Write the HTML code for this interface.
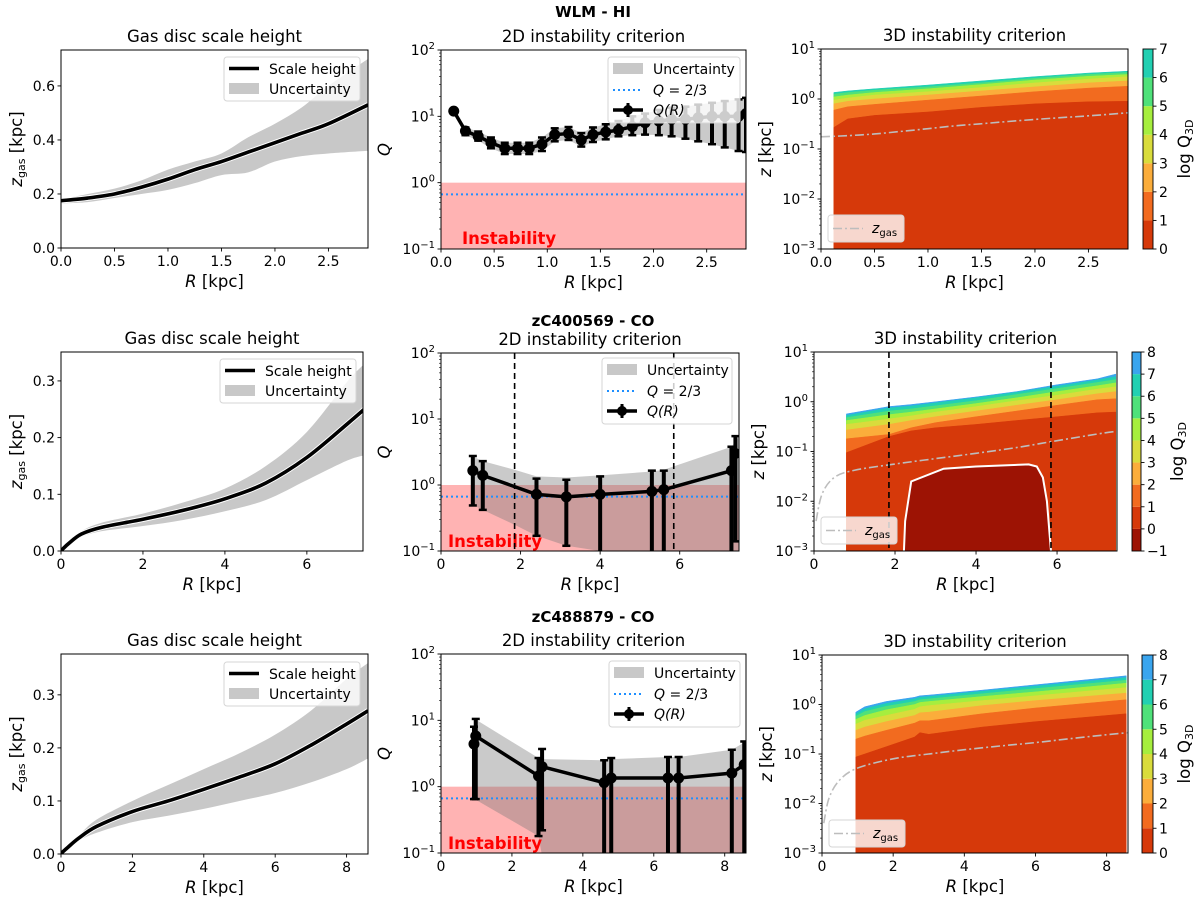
<!DOCTYPE html>
<html><head><meta charset="utf-8"><title>Gas disc instability</title>
<style>
html,body{margin:0;padding:0;background:#fff;}
svg{display:block;font-family:"DejaVu Sans","Liberation Sans",sans-serif;}
</style></head>
<body>
<svg id="fig" width="1200" height="905" viewBox="0 0 1200 905" xmlns="http://www.w3.org/2000/svg">
<rect x="0" y="0" width="1200" height="905" fill="#fff"/>
</svg>
<script>
// ---------- DATA ----------
// Row 1 : WLM - HI
const S1R = [0,0.25,0.5,0.75,1,1.25,1.5,1.75,2,2.25,2.5,2.87];
const S1z = [0.175,0.185,0.2,0.225,0.255,0.29,0.32,0.355,0.39,0.425,0.46,0.53];
const S1hi = [0.18,0.2,0.22,0.25,0.29,0.32,0.35,0.41,0.46,0.52,0.6,0.7];
const S1lo = [0.165,0.17,0.185,0.2,0.215,0.24,0.27,0.28,0.32,0.34,0.35,0.36];
const Q1R = [0.12,0.23,0.35,0.47,0.6,0.72,0.83,0.95,1.07,1.2,1.32,1.43,1.55,1.67,1.8,1.92,2.05,2.17,2.3,2.42,2.55,2.67,2.8,2.87];
const Q1 = [12,6,5,4,3.3,3.3,3.3,3.8,5.3,5.5,4.4,5.3,5.8,6.2,7,8,8.5,9,9,9.5,10,10,10,11];
const Q1lo = [12,5.2,4.3,3.3,2.7,2.7,2.7,3,4.2,4.4,3.5,4.1,4.5,5,5.2,5.3,5.2,5,4.6,4.2,3.8,3.4,3,2.9];
const Q1hi = [12,6.8,5.9,4.8,4.0,4.0,4.0,4.8,6.6,6.9,5.6,6.8,7.6,8.5,10,11,12.5,13.5,14,15,16,17,18,19];
const D1R = [0.12,0.25,0.5,1.0,1.5,2.0,2.5,2.87];
const D1B = [
  [0.27,0.4,0.47,0.55,0.68,0.8,0.88,0.9],
  [0.6,0.7,0.78,0.95,1.15,1.4,1.65,1.8],
  [0.8,0.9,1.0,1.2,1.45,1.75,2.1,2.3],
  [0.95,1.05,1.2,1.4,1.7,2.1,2.5,2.8],
  [1.1,1.2,1.35,1.6,1.95,2.4,2.85,3.1],
  [1.25,1.35,1.5,1.75,2.1,2.6,3.1,3.4],
  [1.35,1.45,1.6,1.9,2.3,2.8,3.3,3.6]
];
// Row 2 : zC400569 - CO
const S2R = [0,0.05,0.2,0.5,1,2,3,4,5,6,7,7.48];
const S2z = [0,0.004,0.014,0.03,0.042,0.056,0.072,0.092,0.12,0.165,0.225,0.255];
const S2hi = [0,0.005,0.016,0.035,0.05,0.066,0.086,0.11,0.15,0.21,0.3,0.335];
const S2lo = [0,0.003,0.012,0.025,0.035,0.044,0.055,0.07,0.09,0.125,0.16,0.17];
const Q2R = [0.8,1.05,2.4,3.15,4.0,5.3,5.6,7.3,7.4];
const Q2 = [1.65,1.4,0.72,0.66,0.72,0.8,0.85,1.65,3];
const Q2lo = [0.49,0.42,0.17,0.12,0.09,0.09,0.09,0.09,0.14];
const Q2hi = [2.75,2.3,1.25,1.2,1.35,1.65,1.65,3.8,5.5];
const B2R = [0.8,1.05,1.85,2.4,3.15,4,5.3,5.6,7.3,7.5];
const B2lo = [0.5,0.42,0.25,0.17,0.12,0.1,0.08,0.08,0.08,0.08];
const B2hi = [2.7,2.3,1.7,1.35,1.3,1.4,1.6,1.7,3.8,5.5];
const D2R = [0.8,1.85,2.4,3,4,5,6,7,7.45];
const D2B = [
  [0.095,0.2,0.26,0.3,0.35,0.42,0.5,0.6,0.62],
  [0.18,0.22,0.3,0.38,0.5,0.65,0.85,1.1,1.15],
  [0.27,0.35,0.42,0.5,0.65,0.85,1.1,1.45,1.6],
  [0.35,0.45,0.52,0.62,0.8,1.05,1.35,1.8,2.0],
  [0.42,0.55,0.62,0.72,0.92,1.2,1.6,2.1,2.4],
  [0.48,0.65,0.72,0.83,1.05,1.4,1.85,2.45,2.8],
  [0.53,0.75,0.82,0.95,1.2,1.55,2.05,2.75,3.2],
  [0.57,0.8,0.88,1.0,1.25,1.6,2.2,2.9,3.6]
];
const U2R = [2.22,2.25,2.4,3.2,4,5.3,5.5,5.65,5.75,5.85];
const U2z = [0.001,0.004,0.025,0.045,0.05,0.055,0.05,0.03,0.01,0.001];
const V2 = [1.85,5.85];
// Row 3 : zC488879 - CO
const S3R = [0,0.05,0.2,0.5,1,2,3,4,5,6,7,8,8.6];
const S3z = [0,0.004,0.013,0.03,0.052,0.08,0.1,0.122,0.145,0.17,0.205,0.245,0.27];
const S3hi = [0,0.005,0.016,0.035,0.065,0.1,0.13,0.16,0.19,0.225,0.27,0.33,0.36];
const S3lo = [0,0.003,0.01,0.025,0.04,0.06,0.072,0.085,0.1,0.115,0.135,0.16,0.18];
const Q3R = [0.93,0.98,2.75,2.85,4.6,4.8,6.4,6.7,8.2,8.55];
const Q3 = [4.4,5.8,1.45,2.0,1.15,1.35,1.35,1.35,1.6,2.15];
const Q3lo = [0.65,0.65,0.18,0.22,0.09,0.09,0.09,0.09,0.09,0.09];
const Q3hi = [8,10.5,2.7,3.7,2.5,2.7,2.8,2.8,3.6,4.8];
const B3R = [0.95,2.75,2.85,4.6,4.8,6.4,6.7,8.2,8.6];
const B3lo = [0.65,0.18,0.09,0.08,0.08,0.08,0.08,0.08,0.08];
const B3hi = [10.5,2.7,2.6,2.5,2.6,2.8,2.8,3.6,4.8];
const D3R = [0.95,1.2,1.8,2.6,2.75,3,4.5,6,8.55];
const D3B = [
  [0.087,0.1,0.14,0.22,0.27,0.25,0.35,0.45,0.65],
  [0.2,0.23,0.3,0.42,0.47,0.47,0.65,0.85,1.25],
  [0.3,0.35,0.45,0.6,0.68,0.7,0.95,1.2,1.7],
  [0.4,0.48,0.6,0.8,0.9,0.95,1.2,1.5,2.2],
  [0.5,0.6,0.78,1.0,1.1,1.15,1.45,1.8,2.7],
  [0.58,0.72,0.92,1.15,1.25,1.3,1.65,2.1,3.1],
  [0.65,0.82,1.05,1.3,1.4,1.45,1.85,2.35,3.5],
  [0.7,0.9,1.15,1.4,1.5,1.55,1.95,2.5,3.8]
];
const LEVEL_COLORS = {'-1':'#9d1304','0':'#d6390a','1':'#f26b1f','2':'#fbad3b','3':'#d9dc3c','4':'#a6ee3e','5':'#4fe17a','6':'#22d0b2','7':'#3aa5ee'};

// ---------- HELPERS ----------
const NS='http://www.w3.org/2000/svg';
const svg=document.getElementById('fig');
const FT=14, FL=16.5;
function mk(tag,attrs,parent){const e=document.createElementNS(NS,tag);for(const k in attrs)e.setAttribute(k,attrs[k]);(parent||svg).appendChild(e);return e;}
function lin(d0,d1,p0,p1){return v=>p0+(v-d0)/(d1-d0)*(p1-p0);}
function lg(d0,d1,p0,p1){return v=>p0+(Math.log10(v)-d0)/(d1-d0)*(p1-p0);}
function pts(xs,ys,sx,sy){return xs.map((x,i)=>sx(x).toFixed(2)+','+sy(ys[i]).toFixed(2));}
function xy(xs,ys,sx,sy){return xs.map((x,i)=>[sx(x),sy(ys[i])]);}
// Catmull-Rom smooth path through points (no leading M if cont)
function smooth(P,cont){
  let d=(cont?'L':'M')+P[0][0].toFixed(2)+','+P[0][1].toFixed(2);
  for(let i=0;i<P.length-1;i++){
    const p0=P[Math.max(0,i-1)],p1=P[i],p2=P[i+1],p3=P[Math.min(P.length-1,i+2)];
    const c1=[p1[0]+(p2[0]-p0[0])/6,p1[1]+(p2[1]-p0[1])/6];
    const c2=[p2[0]-(p3[0]-p1[0])/6,p2[1]-(p3[1]-p1[1])/6];
    d+='C'+c1[0].toFixed(2)+','+c1[1].toFixed(2)+' '+c2[0].toFixed(2)+','+c2[1].toFixed(2)+' '+p2[0].toFixed(2)+','+p2[1].toFixed(2);
  }
  return d;
}
let clipId=0;
function clipFor(ax){const id='c'+(clipId++);const cp=mk('clipPath',{id});mk('rect',{x:ax.x,y:ax.y,width:ax.w,height:ax.h},cp);return 'url(#'+id+')';}

function xAxis(g,ax,sx,ticks,dec){
  ticks.forEach(t=>{
    const x=sx(t);
    const tk=mk('line',{x1:x,x2:x,y1:ax.y+ax.h,y2:ax.y+ax.h+3.5,stroke:'#000','stroke-width':0.9},g);
    
    
    const lb=mk('text',{x:x,y:ax.y+ax.h+18,'text-anchor':'middle','font-size':FT},g);
    lb.textContent=t.toFixed(dec);
    
    
  });
  const xl=mk('text',{x:ax.x+ax.w/2,y:ax.y+ax.h+39,'text-anchor':'middle','font-size':FL},g);
  const it=mk('tspan',{'font-style':'italic'},xl);it.textContent='R';
  const rest=mk('tspan',{},xl);rest.textContent=' [kpc]';
  
  
}
function yAxisLin(g,ax,sy,ticks,dec){
  ticks.forEach(t=>{
    const y=sy(t);
    const tk=mk('line',{x1:ax.x-3.5,x2:ax.x,y1:y,y2:y,stroke:'#000','stroke-width':0.9},g);
    
    
    const lb=mk('text',{x:ax.x-6,y:y+5,'text-anchor':'end','font-size':FT},g);
    lb.textContent=t.toFixed(dec);
    
    
  });
}
function yAxisLog(g,ax,sy,e0,e1){
  for(let d=e0;d<=e1;d++){
    const y=sy(Math.pow(10,d));
    const tk=mk('line',{x1:ax.x-3.5,x2:ax.x,y1:y,y2:y,stroke:'#000','stroke-width':0.9},g);
    
    
    const lb=mk('text',{x:ax.x-6,y:y+5,'text-anchor':'end','font-size':FT},g);
    lb.appendChild(document.createTextNode('10'));
    const sp=mk('tspan',{dy:-6,'font-size':10},lb);
    sp.textContent=(d<0?'\u2212'+(-d):''+d);
    
    
    if(d<e1){for(let m=2;m<=9;m++){const ym=sy(m*Math.pow(10,d));
      const mt=mk('line',{x1:ax.x-2,x2:ax.x,y1:ym,y2:ym,stroke:'#000','stroke-width':0.6},g);
      
      }}
  }
}
function frame(g,ax){
  const f=mk('rect',{x:ax.x,y:ax.y,width:ax.w,height:ax.h,fill:'none',stroke:'#000','stroke-width':1},g);
  
  
}
function title(g,ax,s){
  const t=mk('text',{x:ax.x+ax.w/2,y:ax.y-8,'text-anchor':'middle','font-size':FL},g);
  t.textContent=s;
  
  
}
function zLabel(g,x,y,sub,suffix,name,upright){
  const t=mk('text',{x:x,y:y,'text-anchor':'middle','font-size':FL,transform:'rotate(-90 '+x+' '+y+')'},g);
  const a=mk('tspan',{'font-style':upright?'normal':'italic'},t);a.textContent=upright?'log Q':'z';
  if(sub){const b=mk('tspan',{'font-size':11,dy:3},t);b.textContent=sub;const c=mk('tspan',{dy:-3},t);c.textContent=suffix;}
  else{const c=mk('tspan',{},t);c.textContent=suffix;}
  
  
}

// ---------- PANEL: scale height ----------
function scalePanel(ax,R,z,lo,hi,xticks,xdec,yticks,leg){
  const g=mk('g',{},svg);
  
  
  const sx=lin(0,ax.xmax,ax.x,ax.x+ax.w), sy=lin(0,ax.ymax,ax.y+ax.h,ax.y);
  const cg=mk('g',{'clip-path':clipFor(ax)},g);
  const bd=smooth(xy(R,hi,sx,sy))+smooth(xy(R,lo,sx,sy).reverse(),true)+'Z';
  const band=mk('path',{d:bd,fill:'#c8c8c8'},cg);
  
  
  const ld=smooth(xy(R,z,sx,sy));
  const ln=mk('path',{d:ld,fill:'none',stroke:'#fff','stroke-width':5.5},cg);
  
  
  const ln2=mk('path',{d:ld,fill:'none',stroke:'#000','stroke-width':3.6},cg);
  
  
  frame(g,ax);xAxis(g,ax,sx,xticks,xdec);yAxisLin(g,ax,sy,yticks,1);
  title(g,ax,'Gas disc scale height');
  zLabel(g,22,ax.y+ax.h/2,'gas',' [kpc]','y-axis-title');
  const lgG=mk('g',{},g);
  
  
  mk('rect',{x:leg.x,y:leg.y,width:leg.w,height:leg.h,rx:3,fill:'#fff','fill-opacity':0.8,stroke:'#d6d6d6'},lgG);
  const l1=mk('line',{x1:leg.x+5,x2:leg.x+35,y1:leg.y+11.5,y2:leg.y+11.5,stroke:'#000','stroke-width':3.6},lgG);
  
  
  const t1=mk('text',{x:leg.x+45,y:leg.y+17,'font-size':FT},lgG);t1.textContent='Scale height';
  
  
  const r2=mk('rect',{x:leg.x+5,y:leg.y+26,width:30,height:11,fill:'#c8c8c8'},lgG);
  
  
  const t2=mk('text',{x:leg.x+45,y:leg.y+37,'font-size':FT},lgG);t2.textContent='Uncertainty';
  
  
}

// ---------- PANEL: 2D Q ----------
function qPanel(ax,R,Q,lo,hi,bR,bLo,bHi,xticks,xdec,vlines,leg,inst){
  const g=mk('g',{},svg);
  
  
  const sx=lin(0,ax.xmax,ax.x,ax.x+ax.w), sy=lg(-1,2,ax.y+ax.h,ax.y);
  const cg=mk('g',{'clip-path':clipFor(ax)},g);
  const pink=mk('rect',{x:ax.x,y:sy(1),width:ax.w,height:sy(0.1)-sy(1),fill:'#ffb3b3'},cg);
  
  
  const band=mk('polygon',{points:pts(bR,bHi,sx,sy).concat(pts(bR,bLo,sx,sy).reverse()).join(' '),fill:'#7a7a7a','fill-opacity':0.4},cg);
  
  
  const it=mk('text',{x:inst.x,y:inst.y,'font-size':16.5,'font-weight':'bold',fill:'#ff0000'},cg);
  it.textContent='Instability';
  
  
  const ql=mk('line',{x1:ax.x,x2:ax.x+ax.w,y1:sy(2/3),y2:sy(2/3),stroke:'#1e8fff','stroke-width':2,'stroke-dasharray':'2,3'},cg);
  
  
  vlines.forEach(v=>{
    const vl=mk('line',{x1:sx(v),x2:sx(v),y1:ax.y,y2:ax.y+ax.h,stroke:'#000','stroke-width':1.6,'stroke-dasharray':'6,4'},cg);
    
    
  });
  R.forEach((r,i)=>{
    const x=sx(r);
    const eb=mk('line',{x1:x,x2:x,y1:sy(lo[i]),y2:sy(hi[i]),stroke:'#000','stroke-width':4},cg);
    
    
    [lo[i],hi[i]].forEach(v=>{const c=mk('line',{x1:x-4,x2:x+4,y1:sy(v),y2:sy(v),stroke:'#000','stroke-width':2.5},cg);
      
      });
  });
  const ln=mk('polyline',{points:pts(R,Q,sx,sy).join(' '),fill:'none',stroke:'#000','stroke-width':3.5,'stroke-linejoin':'round'},cg);
  
  
  R.forEach((r,i)=>{
    const m=mk('circle',{cx:sx(r),cy:sy(Q[i]),r:5.5,fill:'#000'},cg);
    
    
  });
  frame(g,ax);xAxis(g,ax,sx,xticks,xdec);yAxisLog(g,ax,sy,-1,2);
  title(g,ax,'2D instability criterion');
  const yl=mk('text',{x:ax.x-56,y:ax.y+ax.h/2+5,'text-anchor':'middle','font-size':FL,'font-style':'italic',transform:'rotate(-90 '+(ax.x-56)+' '+(ax.y+ax.h/2)+')'},g);
  yl.textContent='Q';
  
  
  const lgG=mk('g',{},g);
  
  
  mk('rect',{x:leg.x,y:leg.y,width:leg.w,height:66,rx:3,fill:'#fff','fill-opacity':0.8,stroke:'#d6d6d6'},lgG);
  const a=mk('rect',{x:leg.x+5,y:leg.y+6,width:30,height:11,fill:'#c8c8c8'},lgG);
  
  
  const at=mk('text',{x:leg.x+45,y:leg.y+17,'font-size':FT},lgG);at.textContent='Uncertainty';
  
  
  const b=mk('line',{x1:leg.x+5,x2:leg.x+35,y1:leg.y+33,y2:leg.y+33,stroke:'#1e8fff','stroke-width':2,'stroke-dasharray':'2,3'},lgG);
  
  
  const bt=mk('text',{x:leg.x+45,y:leg.y+38,'font-size':FT},lgG);
  const bi=mk('tspan',{'font-style':'italic'},bt);bi.textContent='Q';
  const br=mk('tspan',{},bt);br.textContent=' = 2/3';
  
  
  const cx=leg.x+20, cy=leg.y+53;
  mk('line',{x1:cx-15,x2:cx+15,y1:cy,y2:cy,stroke:'#000','stroke-width':3.5},lgG);
  mk('line',{x1:cx,x2:cx,y1:cy-7,y2:cy+7,stroke:'#000','stroke-width':3},lgG);
  const cm=mk('circle',{cx:cx,cy:cy,r:5,fill:'#000'},lgG);
  
  
  const ct=mk('text',{x:leg.x+45,y:leg.y+58,'font-size':FT,'font-style':'italic'},lgG);ct.textContent='Q(R)';
  
  
}

// ---------- PANEL: 3D ----------
function panel3D(ax,DR,DB,lvMin,lvMax,SR,Sz,uR,uZ,vlines,leg,cb,cbLabelX){
  const g=mk('g',{},svg);
  
  
  const sx=lin(0,ax.xmax,ax.x,ax.x+ax.w), sy=lg(-3,1,ax.y+ax.h,ax.y);
  const cg=mk('g',{'clip-path':clipFor(ax)},g);
  const bottom=DR.map(()=>0.001);
  for(let k=DB.length-1;k>=0;k--){
    const col=LEVEL_COLORS[String(k)];
    const p=mk('polygon',{points:pts(DR,DB[k],sx,sy).concat(pts(DR,bottom,sx,sy).reverse()).join(' '),fill:col,stroke:col,'stroke-width':0.5},cg);
    
    
  }
  if(uR){
    const ub=uR.map(()=>0.001);
    const u=mk('polygon',{points:pts(uR,uZ,sx,sy).concat(pts(uR,ub,sx,sy).reverse()).join(' '),fill:LEVEL_COLORS['-1']},cg);
    
    
    const uo=mk('polyline',{points:pts(uR,uZ,sx,sy).join(' '),fill:'none',stroke:'#fff','stroke-width':2},cg);
    
    
  }
  const zr=[],zz=[];SR.forEach((r,i)=>{if(Sz[i]>0){zr.push(r);zz.push(Sz[i]);}});
  const zl=mk('path',{d:smooth(xy(zr,zz,sx,sy)),fill:'none',stroke:'#bdbdbd','stroke-width':1.6,'stroke-dasharray':'9,3,2,3'},cg);
  
  
  vlines.forEach(v=>{
    const vl=mk('line',{x1:sx(v),x2:sx(v),y1:ax.y,y2:ax.y+ax.h,stroke:'#000','stroke-width':1.6,'stroke-dasharray':'6,4'},cg);
    
    
  });
  frame(g,ax);xAxis(g,ax,sx,ax.xt,ax.xdec);yAxisLog(g,ax,sy,-3,1);
  title(g,ax,'3D instability criterion');
  zLabel(g,ax.x-50,ax.y+ax.h/2,null,' [kpc]','y-axis-title');
  const lgG=mk('g',{},g);
  
  
  mk('rect',{x:leg.x,y:leg.y,width:76,height:27,rx:3,fill:'#fff','fill-opacity':0.8,stroke:'#d6d6d6'},lgG);
  const ll=mk('line',{x1:leg.x+5,x2:leg.x+35,y1:leg.y+13.5,y2:leg.y+13.5,stroke:'#bdbdbd','stroke-width':1.6,'stroke-dasharray':'9,3,2,3'},lgG);
  
  
  const lt=mk('text',{x:leg.x+44,y:leg.y+18,'font-size':FT},lgG);
  const lz=mk('tspan',{'font-style':'italic'},lt);lz.textContent='z';
  const ls=mk('tspan',{'font-size':10,dy:3},lt);ls.textContent='gas';
  
  
  const cgb=mk('g',{},svg);
  
  
  const cs=lin(lvMin,lvMax,ax.y+ax.h,ax.y);
  for(let l=lvMin;l<lvMax;l++){
    const r=mk('rect',{x:cb.x,y:cs(l+1),width:cb.w,height:cs(l)-cs(l+1),fill:LEVEL_COLORS[String(l)]},cgb);
    
    
  }
  mk('rect',{x:cb.x,y:ax.y,width:cb.w,height:ax.h,fill:'none',stroke:'#000','stroke-width':0.9},cgb);
  for(let l=lvMin;l<=lvMax;l++){
    mk('line',{x1:cb.x+cb.w,x2:cb.x+cb.w+3.5,y1:cs(l),y2:cs(l),stroke:'#000','stroke-width':0.9},cgb);
    const t=mk('text',{x:cb.x+cb.w+6,y:cs(l)+5,'font-size':FT},cgb);
    t.textContent=(l<0?'\u2212'+(-l):''+l);
    
    
  }
  zLabel(cgb,cbLabelX,ax.y+ax.h/2,'3D','','colorbar-title',true);
}

// ---------- SUPTITLES ----------
[['WLM - HI',17],['zC400569 - CO',326],['zC488879 - CO',622]].forEach(s=>{
  const t=mk('text',{x:593,y:s[1],'text-anchor':'middle','font-size':15,'font-weight':'bold'});
  t.textContent=s[0];
  
  
});

// ---------- BUILD ----------
scalePanel({x:61,y:50,w:307,h:198,xmax:2.87,ymax:0.733},S1R,S1z,S1lo,S1hi,[0,0.5,1,1.5,2,2.5],1,[0,0.2,0.4,0.6],{x:224,y:57,w:136,h:44});
qPanel({x:441,y:50,w:305,h:199,xmax:2.87},Q1R,Q1,Q1lo,Q1hi,Q1R,Q1lo,Q1hi,[0,0.5,1,1.5,2,2.5],1,[],{x:608,y:57,w:132},{x:462,y:244});
panel3D({x:821,y:49,w:307,h:200,xmax:2.87,xt:[0,0.5,1,1.5,2,2.5],xdec:1},D1R,D1B,0,7,S1R,S1z,null,null,[],{x:828,y:215},{x:1143,w:10},1190);

scalePanel({x:61,y:352,w:302,h:199,xmax:7.37,ymax:0.351},S2R,S2z,S2lo,S2hi,[0,2,4,6],0,[0,0.1,0.2,0.3],{x:220,y:359,w:136,h:44});
qPanel({x:441,y:353,w:298,h:198,xmax:7.49},Q2R,Q2,Q2lo,Q2hi,B2R,B2lo,B2hi,[0,2,4,6],0,V2,{x:602,y:358,w:130},{x:448,y:547});
panel3D({x:814,y:352,w:303,h:199,xmax:7.48,xt:[0,2,4,6],xdec:0},D2R,D2B,-1,8,S2R,S2z,U2R,U2z,V2,{x:821,y:517},{x:1132,w:9},1183);

scalePanel({x:61,y:654,w:307,h:200,xmax:8.6,ymax:0.377},S3R,S3z,S3lo,S3hi,[0,2,4,6,8],0,[0,0.1,0.2,0.3],{x:224,y:662,w:136,h:44});
qPanel({x:441,y:654,w:305,h:199,xmax:8.6},Q3R,Q3,Q3lo,Q3hi,B3R,B3lo,B3hi,[0,2,4,6,8],0,[],{x:609,y:661,w:131},{x:448,y:849});
panel3D({x:822,y:655,w:306,h:198,xmax:8.6,xt:[0,2,4,6,8],xdec:0},D3R,D3B,0,8,S3R,S3z,null,null,[],{x:829,y:820},{x:1142,w:11},1190);
</script>
</body></html>
